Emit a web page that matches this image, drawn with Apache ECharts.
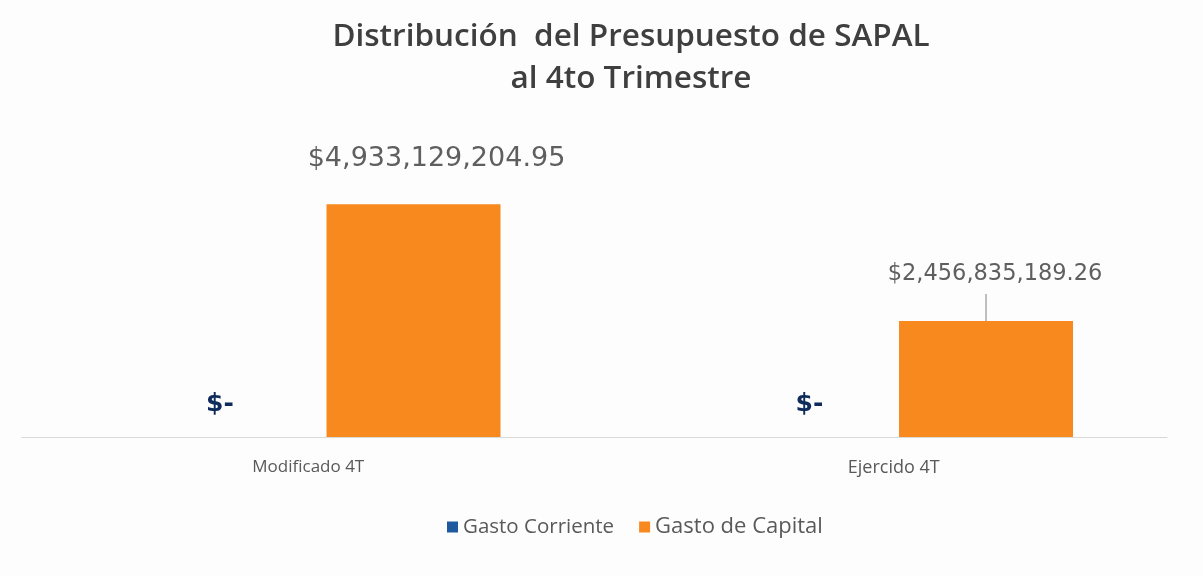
<!DOCTYPE html>
<html>
<head>
<meta charset="utf-8">
<script src="https://cdn.jsdelivr.net/npm/echarts@6/dist/echarts.min.js"></script>
<style>
html, body { margin: 0; padding: 0; background: #fdfdfd; }
#chart { width: 1203px; height: 576px; }
</style>
</head>
<body>
<div id="chart"></div>
<script>
const categories = ['Modificado 4T', 'Ejercido 4T'];
const gastoCorriente = [0, 0];
const gastoCapital = [4933129204.95, 2456835189.26];

function money(v) {
    if (!v) return '$-';
    return '$' + v.toLocaleString('en-US', { minimumFractionDigits: 2, maximumFractionDigits: 2 });
}

const chart = echarts.init(document.getElementById('chart'), null, { renderer: 'canvas' });

var option = {
    backgroundColor: '#fdfdfd',
    title: {
        text: 'Distribución  del Presupuesto de SAPAL\nal 4to Trimestre',
        left: 626,
        textAlign: 'center',
        top: 11,
        textStyle: {
            fontFamily: 'Open Sans',
            fontWeight: 600,
            fontSize: 31.5,
            lineHeight: 42,
            color: '#3f3f3f'
        }
    },
    legend: {
        bottom: 33,
        left: 442,
        itemWidth: 11,
        itemHeight: 11,
        itemGap: 25,
        icon: 'rect',
        textStyle: { fontFamily: 'Open Sans', fontSize: 20.5, color: '#595959' },
        data: ['Gasto Corriente', { name: 'Gasto de Capital', textStyle: { fontSize: 22 } }]
    },
    grid: { left: 22, right: 36, top: 154, bottom: 139 },
    xAxis: {
        type: 'category',
        data: [
            categories[0],
            { value: categories[1], textStyle: { fontSize: 18, padding: [0, 0, 0, 26] } }
        ],
        axisTick: { show: false },
        axisLine: { lineStyle: { color: '#d9d9d9', width: 1 } },
        axisLabel: { fontFamily: 'Open Sans', fontSize: 17, color: '#595959', margin: 22 }
    },
    yAxis: {
        type: 'value',
        min: 0,
        max: 6000000000,
        show: false,
        splitLine: { show: false }
    },
    series: [{
        name: 'Gasto Corriente',
        type: 'bar',
        data: [
            { value: gastoCorriente[0], label: { offset: [17, 0] } },
            { value: gastoCorriente[1], label: { offset: [34, 0] } }
        ],
        barWidth: 174,
        barGap: '21%',
        itemStyle: { color: '#1f5aa0' },
        label: {
            show: true,
            position: 'top',
            distance: 20,
            formatter: function (p) { return money(p.value); },
            fontFamily: 'DejaVu Sans',
            fontWeight: 'bold',
            fontSize: 25,
            color: '#0f2b5b'
        }
    }, {
        name: 'Gasto de Capital',
        type: 'bar',
        data: [
            {
                value: gastoCapital[0],
                label: { offset: [23, -20], fontSize: 27 }
            },
            {
                value: gastoCapital[1],
                label: {
                    offset: [9, 0],
                    distance: 0,
                    formatter: function (p) { return '{v|' + money(p.value) + '}\n{l|}{s|}'; },
                    rich: {
                        v: { fontFamily: 'DejaVu Sans', fontSize: 22.5, color: '#5f5f5f', lineHeight: 40 },
                        l: { width: 1, height: 27, backgroundColor: '#808080' },
                        s: { width: 18, height: 27 }
                    }
                }
            }
        ],
        barWidth: 174,
        itemStyle: { color: '#f8891f' },
        label: {
            show: true,
            position: 'top',
            distance: 12,
            formatter: function (p) { return money(p.value); },
            fontFamily: 'DejaVu Sans',
            color: '#5f5f5f'
        }
    }]
};

chart.setOption(option);
</script>
</body>
</html>
